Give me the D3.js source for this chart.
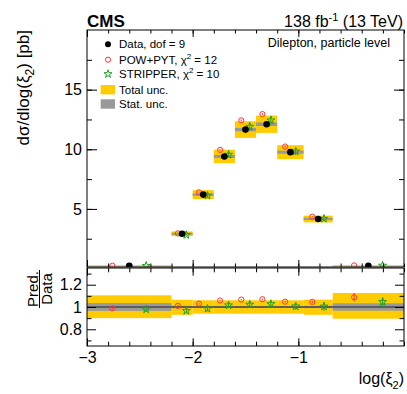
<!DOCTYPE html>
<html>
<head>
<meta charset="utf-8">
<script src="https://cdn.jsdelivr.net/npm/d3@7"></script>
<style>
body { margin: 0; background: #fff; }
text { font-family: "Liberation Sans", Arial, Helvetica, sans-serif; }
</style>
</head>
<body>
<svg id="canvas" width="407" height="394"></svg>
<script>
// bins in log(xi2)
let binEdges = [-3, -2.2, -2.0, -1.8, -1.6, -1.4, -1.2, -0.95, -0.675, 0]
// cross sections in pb
let dataVals = [0.24, 2.92, 6.2, 9.4, 11.65, 12.1, 9.76, 4.16, 0.24]
let powVals = [0.237, 2.95, 6.39, 9.95, 12.43, 12.95, 10.23, 4.35, 0.261]
let stripVals = [0.235, 2.82, 6.11, 9.55, 11.9, 12.43, 9.82, 4.18, 0.251]
// relative uncertainties
let totUp = [0.105, 0.065, 0.06, 0.06, 0.06, 0.06, 0.06, 0.066, 0.126]
let totDown = [0.10, 0.07, 0.06, 0.06, 0.06, 0.06, 0.06, 0.07, 0.105]
let statUnc = [0.035, 0.01, 0.008, 0.008, 0.008, 0.008, 0.008, 0.01, 0.033]
let powErr = [0.01, 0.008, 0.006, 0.006, 0.006, 0.006, 0.006, 0.01, 0.035]
let stripErr = [0.02, 0.02, 0.025, 0.025, 0.03, 0.03, 0.03, 0.04, 0.04]

let xTicksMajor = [-3, -2, -1]
let yTicksTop = [5, 10, 15]
let yTicksRatio = [0.8, 1, 1.2]

let legendLabels = ['Data, dof = 9', 'POW+PYT, χ² = 12', 'STRIPPER, χ² = 10', 'Total unc.', 'Stat. unc.']

const YELLOW = '#ffcc00', GREY = '#999999', RED = '#ff3333', GREEN = '#22a022'

let canvas = d3.select('#canvas')

let x = d3.scaleLinear().domain([-3, 0]).range([87, 404])
let yTop = d3.scaleLinear().domain([0.13, 20]).range([267, 30])
let yRat = d3.scaleLinear().domain([0.65, 1.35]).range([346, 268])

let bins = dataVals.map((d, i) => {
    let lo = binEdges[i], hi = binEdges[i + 1]
    return {
        lo: lo, hi: hi, c: (lo + hi) / 2, off: 0.2 * (hi - lo),
        d: d, pow: powVals[i], strip: stripVals[i],
        up: totUp[i], dn: totDown[i], st: statUnc[i],
        pe: powErr[i], se: stripErr[i]
    }
})

// clip paths
let defs = canvas.append('defs')
defs.append('clipPath').attr('id', 'clipTop').append('rect')
    .attr('x', 87).attr('y', 30).attr('width', 317).attr('height', 237)
defs.append('clipPath').attr('id', 'clipRat').append('rect')
    .attr('x', 87).attr('y', 268).attr('width', 317).attr('height', 78)

let star = d3.symbol().type(d3.symbolStar).size(20)

// ---------- upper panel ----------
let upper = canvas.append('g').attr('clip-path', 'url(#clipTop)')

upper.selectAll('.tot').data(bins).enter().append('rect')
    .attr('x', b => x(b.lo)).attr('width', b => x(b.hi) - x(b.lo))
    .attr('y', b => yTop(b.d * (1 + b.up)))
    .attr('height', b => Math.max(2.5, yTop(b.d * (1 - b.dn)) - yTop(b.d * (1 + b.up))))
    .attr('fill', b => b.d < 1 ? '#e6dcb0' : YELLOW)

upper.selectAll('.stat').data(bins).enter().append('rect')
    .attr('x', b => x(b.lo)).attr('width', b => x(b.hi) - x(b.lo))
    .attr('y', b => yTop(b.d * (1 + b.st)) - 0.6)
    .attr('height', b => yTop(b.d * (1 - b.st)) - yTop(b.d * (1 + b.st)) + 1.2)
    .attr('fill', GREY)
    .attr('opacity', b => b.d < 1 ? 0.3 : 1)

// POW+PYT
upper.selectAll('.powbar').data(bins).enter().append('line')
    .attr('x1', b => x(b.c - b.off)).attr('x2', b => x(b.c - b.off))
    .attr('y1', b => yTop(b.pow * (1 + b.pe))).attr('y2', b => yTop(b.pow * (1 - b.pe)))
    .attr('stroke', RED).attr('stroke-width', 1)
upper.selectAll('.pow').data(bins).enter().append('circle')
    .attr('cx', b => x(b.c - b.off)).attr('cy', b => yTop(b.pow))
    .attr('r', 2.6).attr('fill', 'none').attr('stroke', RED).attr('stroke-width', 1)

// STRIPPER
upper.selectAll('.stripbar').data(bins).enter().append('line')
    .attr('x1', b => x(b.c + b.off)).attr('x2', b => x(b.c + b.off))
    .attr('y1', b => yTop(b.strip * (1 + b.se))).attr('y2', b => yTop(b.strip * (1 - b.se)))
    .attr('stroke', GREEN).attr('stroke-width', 1)
upper.selectAll('.strip').data(bins).enter().append('path')
    .attr('d', star)
    .attr('transform', b => `translate(${x(b.c + b.off)},${yTop(b.strip)})`)
    .attr('fill', 'none').attr('stroke', GREEN).attr('stroke-width', 1)

// data
upper.selectAll('.data').data(bins).enter().append('circle')
    .attr('cx', b => x(b.c)).attr('cy', b => yTop(b.d))
    .attr('r', 3.3).attr('fill', 'black')

// ---------- ratio panel ----------
let rat = canvas.append('g').attr('clip-path', 'url(#clipRat)')

rat.selectAll('.tot').data(bins).enter().append('rect')
    .attr('x', b => x(b.lo)).attr('width', b => x(b.hi) - x(b.lo))
    .attr('y', b => yRat(1 + b.up))
    .attr('height', b => yRat(1 - b.dn) - yRat(1 + b.up))
    .attr('fill', YELLOW)
rat.selectAll('.stat').data(bins).enter().append('rect')
    .attr('x', b => x(b.lo)).attr('width', b => x(b.hi) - x(b.lo))
    .attr('y', b => yRat(1 + b.st))
    .attr('height', b => yRat(1 - b.st) - yRat(1 + b.st))
    .attr('fill', GREY)
rat.append('line')
    .attr('x1', x(-3)).attr('x2', x(0)).attr('y1', yRat(1)).attr('y2', yRat(1))
    .attr('stroke', '#222').attr('stroke-width', 1)

rat.selectAll('.powbar').data(bins).enter().append('line')
    .attr('x1', b => x(b.c - b.off)).attr('x2', b => x(b.c - b.off))
    .attr('y1', b => yRat(b.pow / b.d * (1 + b.pe))).attr('y2', b => yRat(b.pow / b.d * (1 - b.pe)))
    .attr('stroke', RED).attr('stroke-width', 1)
rat.selectAll('.pow').data(bins).enter().append('circle')
    .attr('cx', b => x(b.c - b.off)).attr('cy', b => yRat(b.pow / b.d))
    .attr('r', 2.6).attr('fill', 'none').attr('stroke', RED).attr('stroke-width', 1)
rat.selectAll('.stripbar').data(bins).enter().append('line')
    .attr('x1', b => x(b.c + b.off)).attr('x2', b => x(b.c + b.off))
    .attr('y1', b => yRat(b.strip / b.d * (1 + b.se))).attr('y2', b => yRat(b.strip / b.d * (1 - b.se)))
    .attr('stroke', GREEN).attr('stroke-width', 1)
rat.selectAll('.strip').data(bins).enter().append('path')
    .attr('d', star)
    .attr('transform', b => `translate(${x(b.c + b.off)},${yRat(b.strip / b.d)})`)
    .attr('fill', 'none').attr('stroke', GREEN).attr('stroke-width', 1)

// ---------- axes (ticks inward) ----------
let xMinor = d3.range(-3, 0.001, 0.2)
let fmt = d => d < 0 ? '\u2212' + Math.abs(d) : '' + d

function addAxis(axis, tx, ty, labels) {
    let g = canvas.append('g').attr('transform', `translate(${tx},${ty})`).call(axis)
    g.select('.domain').remove()
    g.selectAll('line').attr('stroke', 'black')
    if (labels) g.selectAll('text').attr('font-size', 16).attr('fill', 'black')
    return g
}

// upper panel
addAxis(d3.axisLeft(yTop).tickValues(d3.range(2.5, 20, 2.5)).tickSize(-5).tickFormat(''), 87, 0)
addAxis(d3.axisLeft(yTop).tickValues(yTicksTop).tickSize(-10).tickPadding(5).tickFormat(d3.format('d')), 87, 0, true)
addAxis(d3.axisRight(yTop).tickValues(d3.range(2.5, 20, 2.5)).tickSize(-5).tickFormat(''), 404, 0)
addAxis(d3.axisRight(yTop).tickValues(yTicksTop).tickSize(-10).tickFormat(''), 404, 0)
addAxis(d3.axisBottom(x).tickValues(xMinor).tickSize(-3.5).tickFormat(''), 0, 267)
addAxis(d3.axisBottom(x).tickValues(xTicksMajor).tickSize(-7).tickFormat(''), 0, 267)
addAxis(d3.axisTop(x).tickValues(xMinor).tickSize(-3.5).tickFormat(''), 0, 30)
addAxis(d3.axisTop(x).tickValues(xTicksMajor).tickSize(-7).tickFormat(''), 0, 30)

// ratio panel
addAxis(d3.axisLeft(yRat).tickValues([0.7, 0.9, 1.1, 1.3]).tickSize(-4.5).tickFormat(''), 87, 0)
addAxis(d3.axisLeft(yRat).tickValues(yTicksRatio).tickSize(-9).tickPadding(5).tickFormat(d => d === 1 ? '1' : d3.format('.1f')(d)), 87, 0, true)
addAxis(d3.axisRight(yRat).tickValues([0.7, 0.9, 1.1, 1.3]).tickSize(-4.5).tickFormat(''), 404, 0)
addAxis(d3.axisRight(yRat).tickValues(yTicksRatio).tickSize(-9).tickFormat(''), 404, 0)
addAxis(d3.axisBottom(x).tickValues(xMinor).tickSize(-4.3).tickFormat(''), 0, 346)
addAxis(d3.axisBottom(x).tickValues(xTicksMajor).tickSize(-7.7).tickPadding(6).tickFormat(fmt), 0, 346, true)
addAxis(d3.axisTop(x).tickValues(xMinor).tickSize(-4.3).tickFormat(''), 0, 268)
addAxis(d3.axisTop(x).tickValues(xTicksMajor).tickSize(-7.7).tickFormat(''), 0, 268)

// frames
canvas.append('rect').attr('x', 87).attr('y', 30).attr('width', 317).attr('height', 237)
    .attr('fill', 'none').attr('stroke', 'black').attr('stroke-width', 1)
canvas.append('rect').attr('x', 87).attr('y', 268).attr('width', 317).attr('height', 78)
    .attr('fill', 'none').attr('stroke', 'black').attr('stroke-width', 1)

// ---------- titles ----------
canvas.append('text').attr('x', 87).attr('y', 26.5)
    .attr('font-size', 17).attr('font-weight', 'bold').text('CMS')

let lumi = canvas.append('text').attr('x', 403).attr('y', 26.5)
    .attr('font-size', 16).attr('text-anchor', 'end')
lumi.append('tspan').text('138 fb')
lumi.append('tspan').attr('font-size', 11).attr('dy', -6).text('-1')
lumi.append('tspan').attr('dy', 6).text(' (13 TeV)')

canvas.append('text').attr('x', 390).attr('y', 46.5)
    .attr('font-size', 12.5).attr('text-anchor', 'end').text('Dilepton, particle level')

// y title
let yt = canvas.append('text').attr('transform', 'translate(29,30) rotate(-90)')
    .attr('font-size', 17).attr('text-anchor', 'end')
yt.append('tspan').text('dσ/dlog(ξ')
yt.append('tspan').attr('font-size', 12).attr('dy', 4.5).text('2')
yt.append('tspan').attr('dy', -4.5).text(') [pb]')

// ratio title
let rt = canvas.append('g').attr('transform', 'translate(0,289)')
rt.append('text').attr('transform', 'translate(38,0) rotate(-90)')
    .attr('font-size', 15).attr('text-anchor', 'middle').text('Pred.')
rt.append('line').attr('x1', 39.5).attr('x2', 39.5).attr('y1', -19).attr('y2', 19)
    .attr('stroke', 'black').attr('stroke-width', 1)
rt.append('text').attr('transform', 'translate(51.5,0) rotate(-90)')
    .attr('font-size', 15).attr('text-anchor', 'middle').text('Data')

// x title
let xt = canvas.append('text').attr('x', 404).attr('y', 384)
    .attr('font-size', 16).attr('text-anchor', 'end')
xt.append('tspan').text('log(ξ')
xt.append('tspan').attr('font-size', 11).attr('dy', 5).text('2')
xt.append('tspan').attr('dy', -5).text(')')

// ---------- legend ----------
let legY = [44.3, 59.7, 74, 89.7, 104]
let leg = canvas.append('g')
leg.append('circle').attr('cx', 108).attr('cy', legY[0]).attr('r', 3).attr('fill', 'black')
leg.append('circle').attr('cx', 108).attr('cy', legY[1]).attr('r', 2.6)
    .attr('fill', 'none').attr('stroke', RED)
leg.append('path').attr('d', star).attr('transform', `translate(108,${legY[2]})`)
    .attr('fill', 'none').attr('stroke', GREEN)
leg.append('rect').attr('x', 100.7).attr('y', legY[3] - 4.7).attr('width', 14.3).attr('height', 9.4).attr('fill', YELLOW)
leg.append('rect').attr('x', 100.7).attr('y', legY[4] - 4.7).attr('width', 14.3).attr('height', 9.4).attr('fill', GREY)

legendLabels.forEach((t, i) => {
    let tx = leg.append('text').attr('x', 119).attr('y', legY[i] + 4).attr('font-size', 11.5)
    let m = t.match(/^(.*χ)²(.*)$/)
    if (m) {
        tx.append('tspan').text(m[1])
        tx.append('tspan').attr('font-size', 8).attr('dy', -5).text('2')
        tx.append('tspan').attr('dy', 5).text(m[2])
    } else {
        tx.text(t)
    }
})
</script>
</body>
</html>
